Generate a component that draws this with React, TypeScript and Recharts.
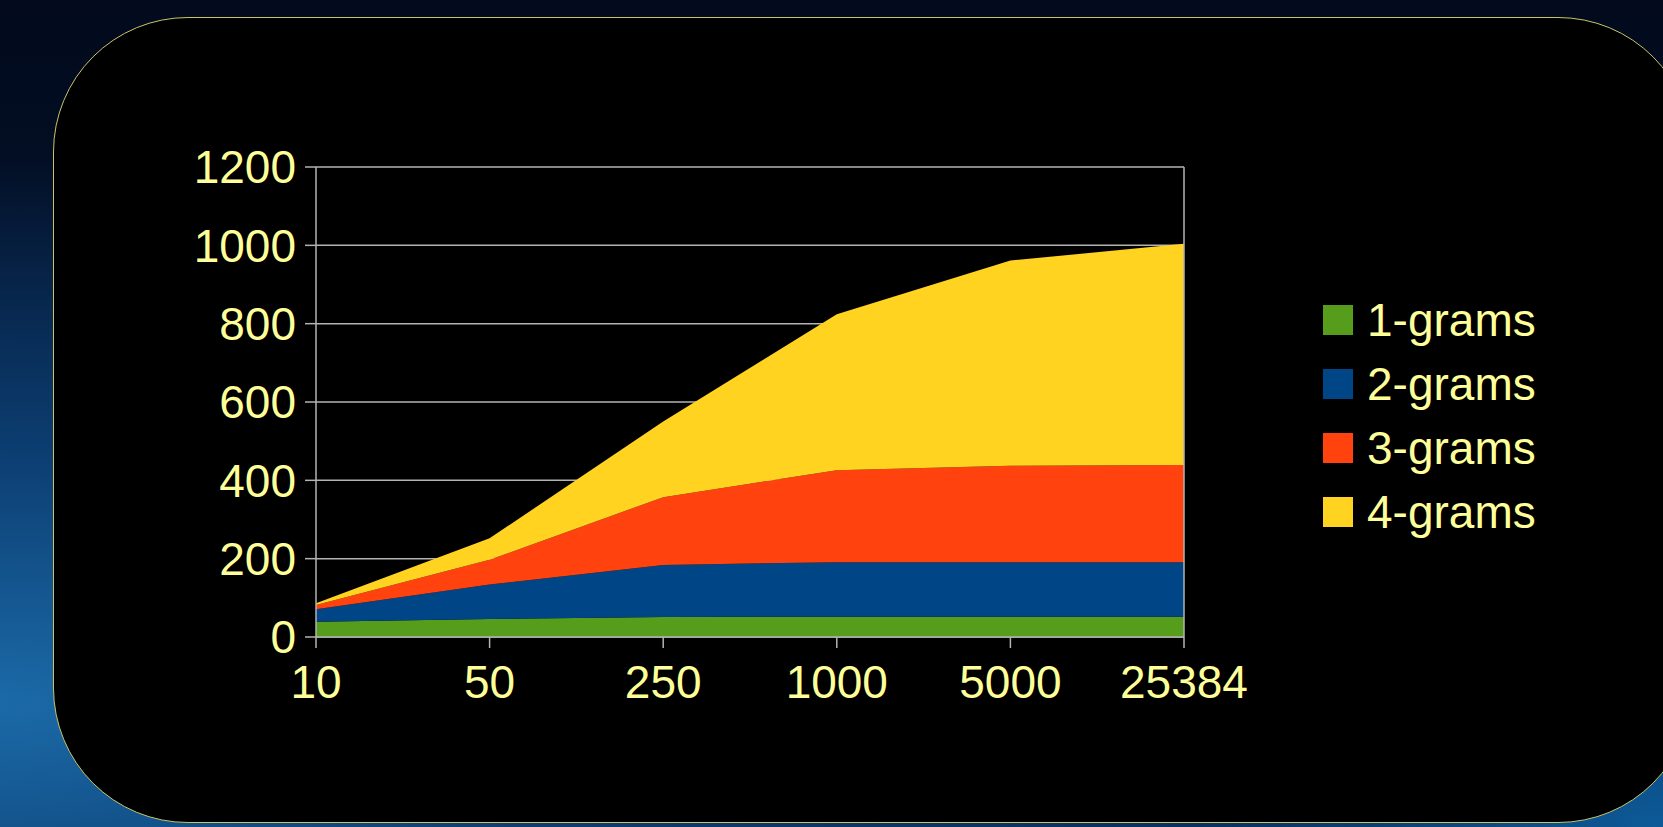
import React from 'react';
import { AreaChart, Area, XAxis, YAxis, CartesianGrid, ReferenceLine, Legend } from 'recharts';

const categories = ['10', '50', '250', '1000', '5000', '25384'];
const oneGrams = [39, 46, 51, 52, 52, 52];
const twoGrams = [32, 88, 133, 139, 139, 139];
const threeGrams = [11, 63, 173, 235, 246, 248];
const fourGrams = [4, 55, 193, 398, 524, 565];
const yTicks = [0, 200, 400, 600, 800, 1000, 1200];

const seriesNames = ['1-grams', '2-grams', '3-grams', '4-grams'];
const seriesColors = ['#579D1C', '#004586', '#FF420E', '#FFD320'];
const seriesValues = [oneGrams, twoGrams, threeGrams, fourGrams];

const data = categories.map((c, i) => {
  const row: Record<string, string | number> = { size: c };
  seriesNames.forEach((n, k) => {
    row[n] = seriesValues[k][i];
  });
  return row;
});

const TEXT = '#FFFF99';
const GRID = '#b3b3b3';
const FONT = '"Liberation Sans", Arial, sans-serif';

// legend drawn from the series lists
const LegendBox = () => (
  <div style={{ fontFamily: FONT }}>
    {seriesNames.map((n, k) => (
      <div key={n} style={{ display: 'flex', alignItems: 'center', height: 64 }}>
        <span style={{ width: 30, height: 30, backgroundColor: seriesColors[k], marginRight: 14, display: 'inline-block' }} />
        <span style={{ color: TEXT, fontSize: 46, lineHeight: 1 }}>{n}</span>
      </div>
    ))}
  </div>
);

export default function App() {
  return (
    <div
      style={{
        position: 'fixed',
        left: 0,
        top: 0,
        width: 1663,
        height: 827,
        overflow: 'hidden',
        background:
          'radial-gradient(ellipse at 0% 85%, #1b6aa8 0%, #0c3e72 25%, rgba(4,20,45,0) 55%), radial-gradient(ellipse at 100% 100%, #0d5a98 0%, #06305e 20%, rgba(3,15,35,0) 45%), linear-gradient(180deg, #020a1c 0%, #041634 60%, #072a55 100%)',
      }}
    >
      {/* black panel with rounded corners */}
      <div
        style={{
          position: 'absolute',
          left: 53,
          top: 17,
          width: 1640,
          height: 806,
          borderRadius: 135,
          backgroundColor: '#000',
          border: '1.5px solid #c9c46a',
          boxSizing: 'border-box',
        }}
      />
      <div style={{ position: 'absolute', left: 0, top: 0 }}>
        <AreaChart
          width={1663}
          height={827}
          data={data}
          margin={{ top: 167, right: 479, bottom: 130, left: 216 }}
        >
          <CartesianGrid vertical={false} stroke={GRID} strokeWidth={1.5} />
          <XAxis
            dataKey="size"
            height={60}
            tickSize={11}
            tickMargin={17}
            axisLine={{ stroke: GRID, strokeWidth: 1.5 }}
            tickLine={{ stroke: GRID, strokeWidth: 1.5 }}
            tick={{ fill: TEXT, fontSize: 46, fontFamily: FONT }}
            interval={0}
          />
          <YAxis
            width={100}
            domain={[0, 1200]}
            ticks={yTicks}
            tickSize={11}
            tickMargin={9}
            axisLine={{ stroke: GRID, strokeWidth: 1.5 }}
            tickLine={{ stroke: GRID, strokeWidth: 1.5 }}
            tick={{ fill: TEXT, fontSize: 46, fontFamily: FONT }}
            allowDataOverflow
          />
          {seriesNames.map((n, k) => (
            <Area
              key={n}
              type="linear"
              dataKey={n}
              stackId="grams"
              stroke="none"
              fill={seriesColors[k]}
              fillOpacity={1}
              isAnimationActive={false}
              dot={false}
              activeDot={false}
            />
          ))}
          <ReferenceLine x="25384" stroke={GRID} strokeWidth={1.5} />
          <Legend
            layout="horizontal"
            align="center"
            verticalAlign="middle"
            content={() => <LegendBox />}
            wrapperStyle={{ position: 'absolute', left: 1323, top: 288, width: 260 }}
          />
        </AreaChart>
      </div>
    </div>
  );
}
